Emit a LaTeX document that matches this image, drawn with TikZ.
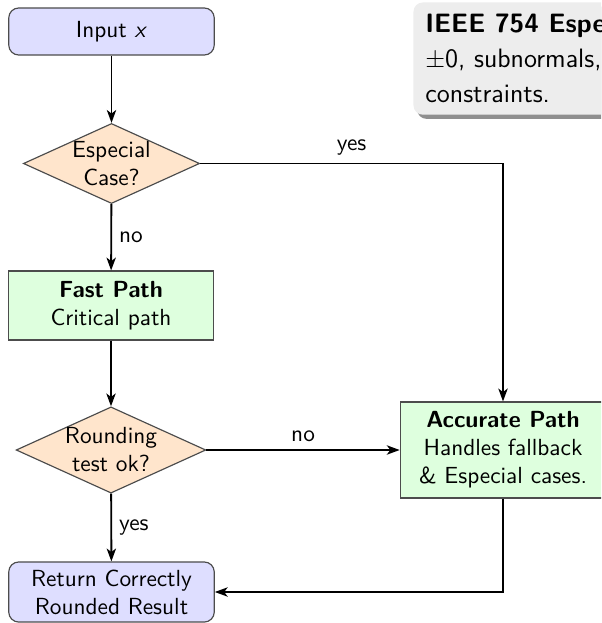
\documentclass[tikz,border=0pt]{standalone}
\usetikzlibrary{shapes.geometric,arrows.meta,shadows}
\renewcommand{\familydefault}{\sfdefault}
\begin{document}
\begin{tikzpicture}[x=0.4292pt,y=-0.4292pt,
  box/.style={draw=black!70, line width=0.5pt, align=center,
    minimum width=88.2pt, inner sep=2pt},
  term/.style={box, rounded corners=4.3pt, fill=blue!13},
  proc/.style={box, fill=green!13},
  decision/.style={diamond, draw=black!70, line width=0.5pt, fill=orange!20,
    align=center, inner sep=0pt, aspect=2.2},
  flow/.style={line width=0.8pt, -{Stealth[length=5.5pt,width=4pt,inset=1.5pt]}},
  lbl/.style={inner sep=3pt},
  note/.style={fill=black!7, rounded corners=4pt, align=left, inner xsep=5.1pt,
    inner ysep=5pt, anchor=north west, font=\fontsize{11.4}{15}\selectfont,
    drop shadow={shadow xshift=1.6pt, shadow yshift=-1.8pt, fill=black!55, opacity=0.8}}]
  \useasboundingbox (0,0) rectangle (601,623);
  \clip (0,0) rectangle (601,623);

  % side note on special values
  \node[note] (nt) at (413,2)
    {\textbf{IEEE 754 Especial Cases}\\
     $\pm$0, subnormals, NaN, $\pm\infty$, range\\
     constraints.};

  % main flow
  \node[term, minimum height=20.2pt] (in) at (111.5,31.5) {Input \textit{x}};
  \node[decision] (esp) at (111.5,163.5) {Especial\\Case?};
  \node[proc, minimum height=29.6pt] (fast) at (111,305.5) {\textbf{Fast Path}\\Critical path};
  \node[decision] (rnd) at (111,450) {Rounding\\test ok?};
  \node[term, minimum height=25.8pt] (ret) at (111.5,592) {Return Correctly\\Rounded Result};
  \node[proc, minimum height=41.2pt] (acc) at (503,450)
    {\textbf{Accurate Path}\\Handles fallback\\\& Especial cases.};

  % connectors
  \draw[flow] (in) -- (esp);
  \draw[flow] (esp) -- node[lbl, right] {no} (fast);
  \draw[flow] (fast) -- (rnd);
  \draw[flow] (rnd) -- node[lbl, right] {yes} (ret);
  \draw[flow] (rnd) -- node[lbl, above] {no} (acc);
  \draw[flow] (esp.east) -| node[lbl, pos=0.25, above] {yes} (acc.north);
  \draw[flow] (acc.south) |- (ret.east);
\end{tikzpicture}
\end{document}
